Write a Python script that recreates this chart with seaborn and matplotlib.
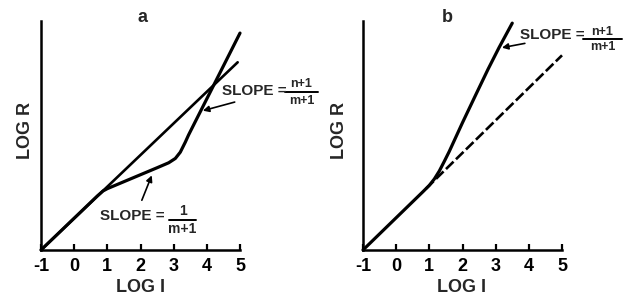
import matplotlib
matplotlib.use("Agg")
import matplotlib.pyplot as plt
from matplotlib.lines import Line2D
import seaborn as sns

# panel a: straight reference line and the bent curve
straight_a_x = [-1, 4.93]
straight_a_y = [-1, 4.66]
curve_a_x = [-1, 0.7, 0.87, 1.0, 1.5, 2.0, 2.5, 2.85, 3.05, 3.2, 3.35, 3.45, 5.0]
curve_a_y = [-1, 0.63, 0.78, 0.85, 1.06, 1.27, 1.48, 1.63, 1.76, 1.95, 2.25, 2.47, 5.54]

# panel b: curve bending upward and dashed extension of the initial line
curve_b_x = [-1, 0.8, 1.0, 1.15, 1.3, 1.45, 1.6, 2.0, 2.4, 2.77, 3.1, 3.5]
curve_b_y = [-1, 0.75, 0.95, 1.14, 1.38, 1.67, 1.97, 2.84, 3.68, 4.45, 5.1, 5.84]
dashed_b_x = [0.9, 5.0]
dashed_b_y = [0.85, 4.87]

x_ticks = [-1, 0, 1, 2, 3, 4, 5]
x_ticklabels = ["-1", "0", "1", "2", "3", "4", "5"]

W, H = 630, 299
FONT = "Liberation Sans"


def px(x, y):
    """Pixel position (from top-left) to figure fraction."""
    return x / W, 1 - y / H


def style_axes(ax):
    ax.set_xlim(-1, 5)
    ax.set_ylim(-1, -1 + 229 / (199 / 6))
    sns.despine(ax=ax)
    for side in ("left", "bottom"):
        ax.spines[side].set_linewidth(1.8)
        ax.spines[side].set_color("black")
    ax.set_xticks(x_ticks)
    ax.set_xticklabels(x_ticklabels, fontsize=13, fontweight="bold", family=FONT)
    ax.tick_params(axis="x", direction="in", length=4.5, width=1.6, pad=6, colors="black")
    ax.set_yticks([])
    ax.set_xlabel("")
    ax.set_ylabel("")
    ax.patch.set_alpha(0)


def slope_label(fig, x_left, y_mid, num, den, bar_x0, bar_x1, bar_y, num_y, den_y,
                size=11, frac_size=9):
    fig.text(*px(x_left, y_mid), "SLOPE =", ha="left", va="center",
             fontsize=size, fontweight="bold", family=FONT)
    cx = (bar_x0 + bar_x1) / 2
    fig.text(*px(cx, num_y), num, ha="center", va="center",
             fontsize=frac_size, fontweight="bold", family=FONT)
    fig.text(*px(cx, den_y), den, ha="center", va="center",
             fontsize=frac_size, fontweight="bold", family=FONT)
    (x0, y0), (x1, _) = px(bar_x0, bar_y), px(bar_x1, bar_y)
    fig.add_artist(Line2D([x0, x1], [y0, y0], color="black", lw=1.4,
                          transform=fig.transFigure))


sns.set_style("ticks")
fig = plt.figure(figsize=(6.3, 2.99), dpi=100)
ax_a = fig.add_axes([41 / W, 49 / H, 199 / W, 229 / H])
ax_b = fig.add_axes([363 / W, 49 / H, 199 / W, 229 / H])

arrow = dict(arrowstyle="-|>", color="black", lw=1.2, mutation_scale=9,
             shrinkA=0, shrinkB=0)

# panel a
sns.lineplot(x=straight_a_x, y=straight_a_y, ax=ax_a, color="black", lw=1.9,
             sort=False, clip_on=False)
sns.lineplot(x=curve_a_x, y=curve_a_y, ax=ax_a, color="black", lw=2.3,
             sort=False, clip_on=False)
style_axes(ax_a)
ax_a.annotate("", xy=(3.88, 3.2), xytext=(4.84, 3.46), arrowprops=arrow,
              annotation_clip=False)
ax_a.annotate("", xy=(2.34, 1.25), xytext=(2.04, 0.5), arrowprops=arrow,
              annotation_clip=False)

# panel b
sns.lineplot(x=curve_b_x, y=curve_b_y, ax=ax_b, color="black", lw=2.3,
             sort=False, clip_on=False)
sns.lineplot(x=dashed_b_x, y=dashed_b_y, ax=ax_b, color="black", lw=1.9,
             sort=False, clip_on=False, linestyle=(0, (4, 1.3)))
style_axes(ax_b)
ax_b.annotate("", xy=(3.19, 5.1), xytext=(3.88, 5.23), arrowprops=arrow,
              annotation_clip=False)

# panel letters and axis titles
for x, letter in ((143, "a"), (447, "b")):
    fig.text(*px(x, 17), letter, ha="center", va="center", fontsize=13,
             fontweight="bold", family=FONT)
for x in (25, 340):
    fig.text(*px(x, 130), "LOG R", ha="center", va="center", rotation=90,
             fontsize=13, fontweight="bold", family=FONT)
for x in (141, 462):
    fig.text(*px(x, 288), "LOG I", ha="center", va="center", fontsize=13,
             fontweight="bold", family=FONT)

# slope annotations
slope_label(fig, 222, 91, "n+1", "m+1", 285, 318, 92, 84, 101)
slope_label(fig, 100, 216, "1", "m+1", 169, 196, 220, 211, 229, frac_size=10)
slope_label(fig, 520, 35, "n+1", "m+1", 583, 622, 39, 32, 47)

fig.savefig("out.png", dpi=100)
